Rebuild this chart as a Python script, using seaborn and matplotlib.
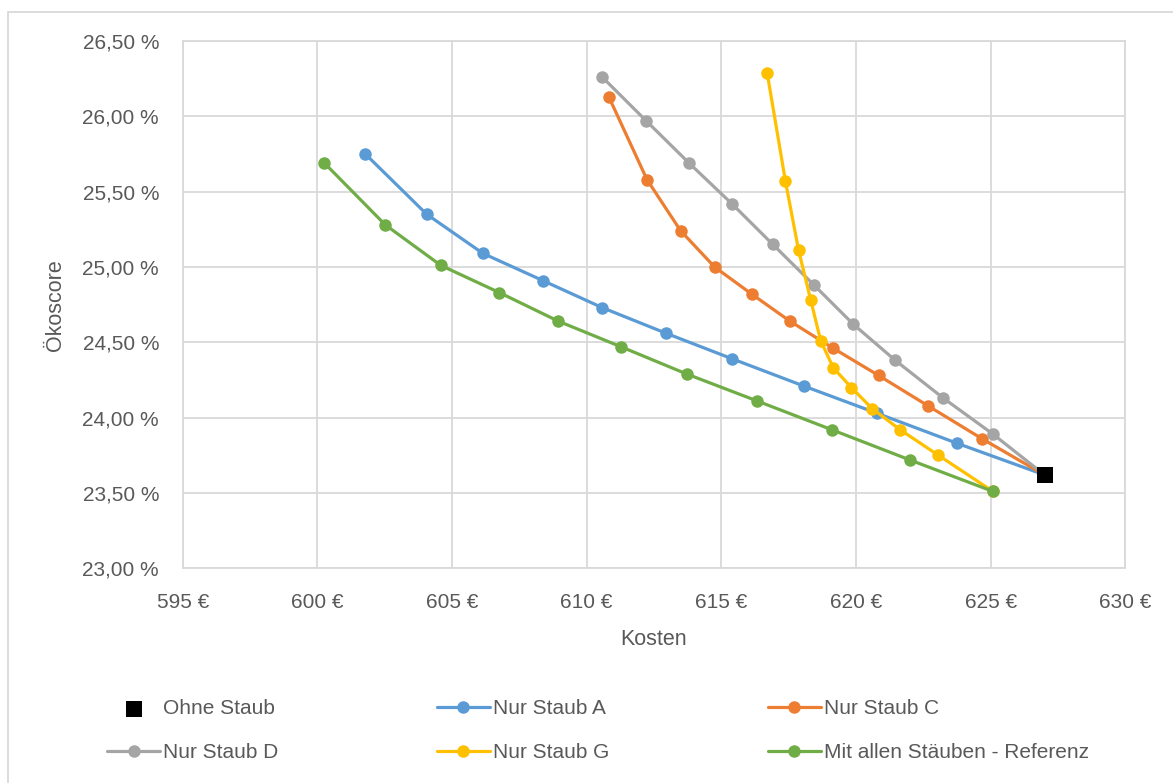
import matplotlib
matplotlib.use("Agg")
import matplotlib.pyplot as plt
from matplotlib.patches import Rectangle
from matplotlib.ticker import FuncFormatter
import numpy as np
import pandas as pd
import seaborn as sns

# --- data: cost (EUR) vs. eco score (%) ---
kosten_ohne = [627.00]
score_ohne = [23.62]

kosten_a = [601.78, 604.06, 606.15, 608.37, 610.58, 612.95, 615.41, 618.06, 620.77, 623.75, 627.00]
score_a = [25.75, 25.35, 25.09, 24.91, 24.73, 24.56, 24.39, 24.21, 24.03, 23.83, 23.62]

kosten_c = [610.82, 612.24, 613.49, 614.75, 616.13, 617.55, 619.16, 620.84, 622.66, 624.68, 627.00]
score_c = [26.13, 25.58, 25.24, 25.00, 24.82, 24.64, 24.46, 24.28, 24.08, 23.86, 23.62]

kosten_d = [610.58, 612.21, 613.80, 615.39, 616.91, 618.44, 619.90, 621.46, 623.24, 625.09, 627.00]
score_d = [26.26, 25.97, 25.69, 25.42, 25.15, 24.88, 24.62, 24.38, 24.13, 23.89, 23.62]

kosten_g = [616.70, 617.38, 617.87, 618.32, 618.69, 619.16, 619.83, 620.60, 621.64, 623.06, 625.09]
score_g = [26.29, 25.57, 25.11, 24.78, 24.51, 24.33, 24.20, 24.06, 23.92, 23.75, 23.51]

kosten_alle = [600.26, 602.52, 604.59, 606.76, 608.95, 611.28, 613.71, 616.34, 619.10, 621.99, 625.09]
score_alle = [25.69, 25.28, 25.01, 24.83, 24.64, 24.47, 24.29, 24.11, 23.92, 23.72, 23.51]

serien = ["Nur Staub A", "Nur Staub C", "Nur Staub D", "Nur Staub G", "Mit allen Stäuben - Referenz"]
farben = ["#5B9BD5", "#ED7D31", "#A5A5A5", "#FFC000", "#70AD47"]

x_ticks = [595, 600, 605, 610, 615, 620, 625, 630]
y_ticks = [23.0, 23.5, 24.0, 24.5, 25.0, 25.5, 26.0, 26.5]

df = pd.concat([
    pd.DataFrame({"Kosten": k, "Score": s, "Serie": n})
    for k, s, n in zip([kosten_a, kosten_c, kosten_d, kosten_g, kosten_alle],
                       [score_a, score_c, score_d, score_g, score_alle], serien)
], ignore_index=True)

# --- style ---
sns.set_theme(style="white")
plt.rcParams["font.family"] = ["Liberation Sans", "DejaVu Sans"]
TEXT = "#595959"
GRID = "#D9D9D9"

fig = plt.figure(figsize=(11.73, 7.83), dpi=100)
ax = fig.add_axes([182.7 / 1173, 1 - 568.3 / 783, (1125.3 - 182.7) / 1173, (568.3 - 41) / 783])

for i, (name, col) in enumerate(zip(serien, farben)):
    sns.lineplot(data=df[df["Serie"] == name], x="Kosten", y="Score", sort=False,
                 estimator=None, color=col, linewidth=2.3, marker="o", markersize=9,
                 markeredgewidth=0, label=name, ax=ax, zorder=3 + i * 0.1)

sns.scatterplot(x=kosten_ohne, y=score_ohne, marker="s", s=135, color="black",
                linewidth=0, label="Ohne Staub", ax=ax, zorder=6)

ax.set_xlim(x_ticks[0], x_ticks[-1])
ax.set_ylim(y_ticks[0], y_ticks[-1])
ax.set_xticks(x_ticks)
ax.set_yticks(y_ticks)
ax.xaxis.set_major_formatter(FuncFormatter(lambda v, p: f"{v:.0f} €"))
ax.yaxis.set_major_formatter(FuncFormatter(lambda v, p: f"{v:.2f} %".replace(".", ",")))
ax.grid(True, color=GRID, linewidth=1.3)
ax.set_axisbelow(True)
for sp in ax.spines.values():
    sp.set_color(GRID)
    sp.set_linewidth(1.3)
ax.tick_params(axis="x", length=0, pad=18, labelsize=15, labelcolor=TEXT)
ax.tick_params(axis="y", length=0, pad=17, labelsize=15, labelcolor=TEXT)
ax.set_xlabel("Kosten", fontsize=15.5, color=TEXT, labelpad=12)
ax.set_ylabel("Ökoscore", fontsize=15.5, color=TEXT, labelpad=12)

# --- legend below the plot, 3 columns in row order ---
handles, labels = ax.get_legend_handles_labels()
if ax.get_legend() is not None:
    ax.get_legend().remove()
order = [labels.index(n) for n in ["Ohne Staub"] + serien]
handles = [handles[i] for i in order]
labels = [labels[i] for i in order]
perm = [0, 3, 1, 4, 2, 5]
leg = fig.legend([handles[i] for i in perm], [labels[i] for i in perm],
                 loc="upper left", bbox_to_anchor=(107 / 1173, 1 - 699 / 783),
                 ncol=3, frameon=False, fontsize=15, handlelength=2.55,
                 handletextpad=0.15, columnspacing=7.6, labelspacing=1.2,
                 borderpad=0, borderaxespad=0)
for t in leg.get_texts():
    t.set_color(TEXT)

# chart area border
fig.patches.append(Rectangle((8 / 1173, -0.1), 1.2, 1 - 12 / 783 + 0.1,
                             transform=fig.transFigure, fill=False,
                             edgecolor=GRID, linewidth=1.3))

fig.savefig("out.png", dpi=100, facecolor="white")
